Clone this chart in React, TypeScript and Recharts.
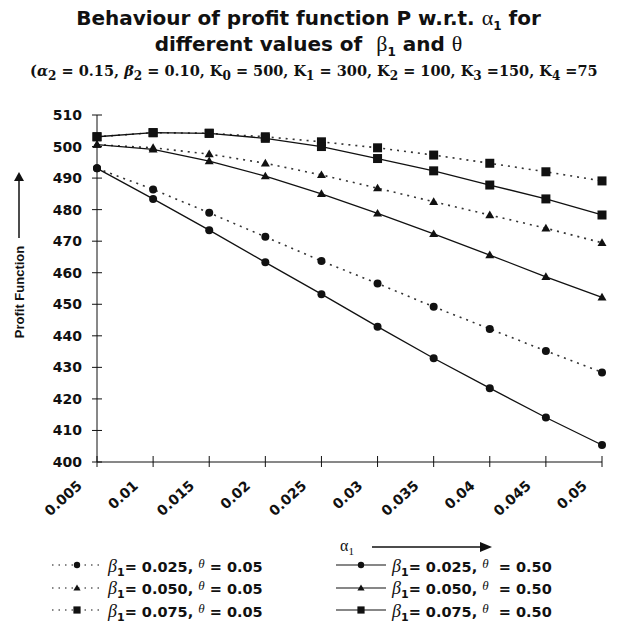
import { CartesianGrid, Line, LineChart, XAxis, YAxis } from 'recharts';

const ALPHA1 = ['0.005', '0.01', '0.015', '0.02', '0.025', '0.03', '0.035', '0.04', '0.045', '0.05'];

// beta1 = 0.025
const B025_T005 = [493.1, 486.4, 479.0, 471.4, 463.7, 456.6, 449.2, 442.2, 435.2, 428.4];
const B025_T050 = [493.1, 483.4, 473.5, 463.3, 453.2, 442.9, 432.9, 423.4, 414.1, 405.4];
// beta1 = 0.050
const B050_T005 = [500.6, 499.6, 497.6, 494.7, 491.0, 486.8, 482.5, 478.3, 474.1, 469.5];
const B050_T050 = [500.6, 499.1, 495.4, 490.6, 485.0, 478.8, 472.3, 465.6, 458.7, 452.2];
// beta1 = 0.075
const B075_T005 = [503.1, 504.4, 504.2, 503.1, 501.5, 499.6, 497.3, 494.7, 492.0, 489.1];
const B075_T050 = [503.1, 504.4, 504.2, 502.6, 500.0, 496.2, 492.3, 487.8, 483.4, 478.3];

const Y_TICKS = [400, 410, 420, 430, 440, 450, 460, 470, 480, 490, 500, 510];

type Shape = 'circle' | 'triangle' | 'square';

const SERIES: { key: string; values: number[]; shape: Shape; dotted: boolean; beta: string; theta: string }[] = [
  { key: 'b025t005', values: B025_T005, shape: 'circle', dotted: true, beta: '0.025', theta: '0.05' },
  { key: 'b025t050', values: B025_T050, shape: 'circle', dotted: false, beta: '0.025', theta: '0.50' },
  { key: 'b050t005', values: B050_T005, shape: 'triangle', dotted: true, beta: '0.050', theta: '0.05' },
  { key: 'b050t050', values: B050_T050, shape: 'triangle', dotted: false, beta: '0.050', theta: '0.50' },
  { key: 'b075t005', values: B075_T005, shape: 'square', dotted: true, beta: '0.075', theta: '0.05' },
  { key: 'b075t050', values: B075_T050, shape: 'square', dotted: false, beta: '0.075', theta: '0.50' },
];

const data = ALPHA1.map((a, i) => {
  const row: Record<string, string | number> = { a };
  SERIES.forEach((s) => {
    row[s.key] = s.values[i];
  });
  return row;
});

const INK = '#111';
const WIDE = '"DejaVu Sans", Arial, sans-serif';
const SANS = 'Arial, "Liberation Sans", sans-serif';
const SERIF = '"Times New Roman", "Liberation Serif", serif';
const WIDE_SERIF = '"DejaVu Serif", "Liberation Serif", serif';

function marker(shape: Shape, x: number, y: number, size = 1) {
  if (shape === 'circle') return <circle cx={x} cy={y} r={4 * size} fill={INK} />;
  if (shape === 'triangle') {
    const h = 4.5 * size;
    return <polygon points={`${x},${y - h} ${x - h},${y + h * 0.7} ${x + h},${y + h * 0.7}`} fill={INK} />;
  }
  const s = 4.5 * size;
  return <rect x={x - s} y={y - s} width={s * 2} height={s * 2} fill={INK} />;
}

function makeDot(shape: Shape) {
  return (props: any) => {
    const { cx, cy, index } = props;
    if (cx == null || cy == null) return <g key={index} />;
    return <g key={index}>{marker(shape, cx, cy)}</g>;
  };
}

function YTick(props: any) {
  const { x, y, payload } = props;
  const ax = x + 15;
  return (
    <g>
      <line x1={ax - 5} x2={ax + 5} y1={y} y2={y} stroke={INK} strokeWidth={1} />
      <text x={x} y={y} dy={5} textAnchor="end" fontFamily={WIDE} fontWeight="bold" fontSize={14} fill={INK}>
        {payload.value}
      </text>
    </g>
  );
}

function XTick(props: any) {
  const { x, y, payload } = props;
  const ay = y - 2;
  const tx = x - 14;
  const ty = ay + 25;
  return (
    <g>
      <line x1={x} x2={x} y1={ay - 6} y2={ay + 5} stroke={INK} strokeWidth={1} />
      <text
        x={tx}
        y={ty}
        textAnchor="end"
        transform={`rotate(-42, ${tx}, ${ty})`}
        fontFamily={WIDE}
        fontWeight="bold"
        fontSize={14}
        fill={INK}
      >
        {payload.value}
      </text>
    </g>
  );
}

function LegendItem({ s }: { s: (typeof SERIES)[number] }) {
  return (
    <div style={{ display: 'flex', alignItems: 'center', height: 22.5 }}>
      <svg width={54} height={14} style={{ marginRight: 4 }}>
        <line
          x1={2}
          x2={52}
          y1={7}
          y2={7}
          stroke={INK}
          strokeWidth={1.2}
          strokeDasharray={s.dotted ? '1.5 5' : undefined}
        />
        {marker(s.shape, 27, 7, 0.8)}
      </svg>
      <span style={{ fontFamily: WIDE, fontWeight: 'bold', fontSize: 14.5, color: INK, whiteSpace: 'nowrap', lineHeight: '18px' }}>
        <span style={{ fontFamily: SERIF, fontStyle: 'italic', fontWeight: 'normal', fontSize: 18 }}>β</span>
        <sub style={{ fontSize: 11, lineHeight: 0 }}>1</sub>= {s.beta},{' '}
        <span style={{ fontFamily: SERIF, fontStyle: 'italic', fontWeight: 'normal', fontSize: 13, verticalAlign: 4 }}>
          θ
        </span>
        {s.dotted ? ' ' : '\u00a0\u00a0'}= {s.theta}
      </span>
    </div>
  );
}

export default function App() {
  return (
    <div style={{ position: 'absolute', left: 0, top: 0, width: 617, height: 623, background: '#fff', overflow: 'hidden' }}>
      <div
        style={{
          position: 'absolute',
          top: 5,
          left: 0,
          width: 617,
          textAlign: 'center',
          fontFamily: WIDE,
          fontWeight: 'bold',
          fontSize: 20,
          lineHeight: '26px',
          color: INK,
        }}
      >
        <div>
          Behaviour of profit function P w.r.t. <span style={{ fontFamily: SERIF, fontWeight: 'normal', fontSize: 22 }}>α</span>
          <sub style={{ fontSize: 12, lineHeight: 0 }}>1</sub> for
        </div>
        <div>
          different values of&nbsp; <span style={{ fontFamily: SERIF, fontWeight: 'normal', fontSize: 22 }}>β</span>
          <sub style={{ fontSize: 12, lineHeight: 0 }}>1</sub> and{' '}
          <span style={{ fontFamily: SERIF, fontWeight: 'normal', fontSize: 22 }}>θ</span>
        </div>
      </div>
      <div
        style={{
          position: 'absolute',
          top: 61,
          left: 30,
          fontFamily: WIDE_SERIF,
          fontWeight: 'bold',
          fontSize: 14.5,
          color: INK,
          whiteSpace: 'nowrap',
          lineHeight: '20px',
        }}
      >
        (<i>α</i>
        <sub style={{ lineHeight: 0 }}>2</sub> = 0.15, <i>β</i>
        <sub style={{ lineHeight: 0 }}>2</sub> = 0.10, K<sub style={{ lineHeight: 0 }}>0</sub> = 500, K
        <sub style={{ lineHeight: 0 }}>1</sub> = 300, K<sub style={{ lineHeight: 0 }}>2</sub> = 100, K
        <sub style={{ lineHeight: 0 }}>3</sub> =150, K<sub style={{ lineHeight: 0 }}>4</sub> =75
      </div>

      <LineChart
        width={617}
        height={623}
        data={data}
        margin={{ top: 115, right: 15, bottom: 101, left: 37 }}
        style={{ position: 'absolute', left: 0, top: 0 }}
      >
        <CartesianGrid stroke="none" />
        <XAxis
          dataKey="a"
          height={60}
          stroke={INK}
          tickLine={false}
          tickSize={0}
          tickMargin={2}
          interval={0}
          tick={<XTick />}
        />
        <YAxis
          width={60}
          domain={[400, 510]}
          ticks={Y_TICKS}
          stroke={INK}
          tickLine={false}
          tickSize={0}
          tickMargin={15}
          interval={0}
          tick={<YTick />}
        />
        {SERIES.map((s) => (
          <Line
            key={s.key}
            dataKey={s.key}
            type="linear"
            stroke={s.dotted ? '#333' : INK}
            strokeWidth={s.dotted ? 1.6 : 1.3}
            strokeDasharray={s.dotted ? '2 5' : undefined}
            dot={makeDot(s.shape)}
            activeDot={false}
            isAnimationActive={false}
          />
        ))}
      </LineChart>

      {/* y-axis label with arrow */}
      <div
        style={{
          position: 'absolute',
          left: 19,
          top: 292,
          transform: 'translate(-50%, -50%) rotate(-90deg)',
          fontFamily: SANS,
          fontWeight: 'bold',
          fontSize: 13,
          color: INK,
          whiteSpace: 'nowrap',
        }}
      >
        Profit Function
      </div>
      <svg style={{ position: 'absolute', left: 9, top: 170 }} width={20} height={70}>
        <line x1={10} x2={10} y1={8} y2={68} stroke={INK} strokeWidth={1.5} />
        <polygon points="10,2 5,11 15,11" fill={INK} />
      </svg>

      {/* x-axis label with arrow */}
      <div
        style={{ position: 'absolute', left: 340, top: 537, fontFamily: SERIF, fontSize: 16, color: INK, whiteSpace: 'nowrap' }}
      >
        α<sub style={{ fontSize: 11 }}>1</sub>
      </div>
      <svg style={{ position: 'absolute', left: 370, top: 539 }} width={125} height={16}>
        <line x1={2} x2={112} y1={8} y2={8} stroke={INK} strokeWidth={1.5} />
        <polygon points="122,8 110,3 110,13" fill={INK} />
      </svg>

      {/* legend */}
      <div style={{ position: 'absolute', left: 50, top: 554 }}>
        {SERIES.filter((s) => s.dotted).map((s) => (
          <LegendItem key={s.key} s={s} />
        ))}
      </div>
      <div style={{ position: 'absolute', left: 334, top: 554 }}>
        {SERIES.filter((s) => !s.dotted).map((s) => (
          <LegendItem key={s.key} s={s} />
        ))}
      </div>
    </div>
  );
}
